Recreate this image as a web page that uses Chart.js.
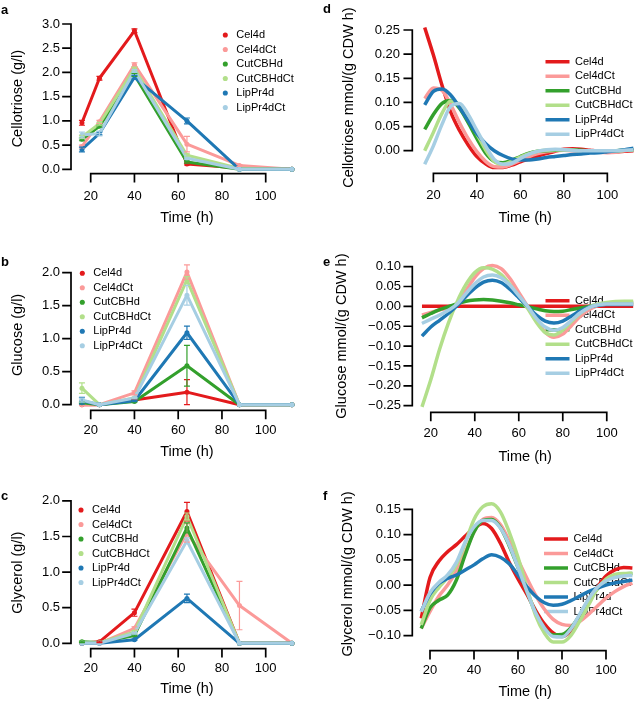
<!DOCTYPE html>
<html>
<head>
<meta charset="utf-8">
<script src="https://cdn.jsdelivr.net/npm/chart.js@4/dist/chart.umd.min.js"></script>
<style>
html, body { margin: 0; padding: 0; background: #fff; overflow: hidden; }
#figure { position: relative; width: 638px; height: 701px; }
.panel { position: absolute; }
</style>
</head>
<body>
<div id="figure"></div>
<script>
const series_names = ['Cel4d', 'Cel4dCt', 'CutCBHd', 'CutCBHdCt', 'LipPr4d', 'LipPr4dCt'];
const series_colors = ['#E31A1C', '#FB9A99', '#33A02C', '#B2DF8A', '#1F78B4', '#A6CEE3'];

// sampling times of the measured concentrations (h)
const sample_hours = [16, 24, 40, 64, 88, 112];
const rate_hours = [16, 20, 24, 28, 32, 36, 40, 44, 48, 52, 56, 60, 64, 68, 72, 76, 80, 84, 88, 92, 96, 100, 104, 108, 112];

const time_ticks = [20, 40, 60, 80, 100];
const cellotriose_ticks = [0, 0.5, 1, 1.5, 2, 2.5, 3];
const glucose_ticks = [0, 0.5, 1, 1.5, 2];
const glycerol_ticks = [0, 0.5, 1, 1.5, 2];
const cellotriose_rate_ticks = [0, 0.05, 0.1, 0.15, 0.2, 0.25];
const glucose_rate_ticks = [-0.25, -0.2, -0.15, -0.1, -0.05, 0, 0.05, 0.1];
const glycerol_rate_ticks = [-0.1, -0.05, 0, 0.05, 0.1, 0.15];

// concentrations (g/l), one row per strain
const cellotriose_mean = [
    [0.96, 1.88, 2.86, 0.11, 0.03, 0.0],
    [0.47, 0.98, 2.16, 0.52, 0.08, 0.0],
    [0.62, 0.89, 1.95, 0.15, 0.0, 0.0],
    [0.67, 0.94, 2.08, 0.29, 0.02, 0.0],
    [0.41, 0.74, 1.90, 1.00, 0.0, 0.0],
    [0.71, 0.74, 2.03, 0.23, 0.0, 0.0]
];
const cellotriose_sd = [
    [0.05, 0.04, 0.04, 0.02, 0, 0],
    [0.03, 0.03, 0.04, 0.16, 0.02, 0],
    [0.03, 0.02, 0.03, 0.02, 0, 0],
    [0.03, 0.03, 0.03, 0.03, 0, 0],
    [0.05, 0.03, 0.04, 0.06, 0, 0],
    [0.06, 0.05, 0.03, 0.02, 0, 0]
];
const glucose_mean = [
    [0.0, 0.0, 0.07, 0.19, 0.0, 0.0],
    [0.0, 0.0, 0.18, 2.01, 0.0, 0.0],
    [0.03, 0.0, 0.05, 0.59, 0.0, 0.0],
    [0.25, 0.0, 0.10, 1.89, 0.0, 0.0],
    [0.06, 0.0, 0.06, 1.09, 0.0, 0.0],
    [0.07, 0.0, 0.10, 1.66, 0.0, 0.0]
];
const glucose_sd = [
    [0, 0, 0.01, 0.19, 0, 0],
    [0, 0, 0.03, 0.11, 0, 0],
    [0.01, 0, 0.01, 0.31, 0, 0],
    [0.08, 0, 0.01, 0.05, 0, 0],
    [0.05, 0, 0.01, 0.10, 0, 0],
    [0.03, 0, 0.01, 0.15, 0, 0]
];
const glycerol_mean = [
    [0.0, 0.02, 0.43, 1.85, 0.0, 0.0],
    [0.0, 0.0, 0.21, 1.55, 0.53, 0.0],
    [0.02, 0.01, 0.11, 1.62, 0.0, 0.0],
    [0.01, 0.01, 0.16, 1.78, 0.0, 0.0],
    [0.0, 0.0, 0.05, 0.63, 0.0, 0.0],
    [0.0, 0.0, 0.14, 1.44, 0.0, 0.0]
];
const glycerol_sd = [
    [0, 0.01, 0.05, 0.13, 0, 0],
    [0, 0, 0.02, 0.13, 0.34, 0],
    [0.01, 0, 0.01, 0.07, 0, 0],
    [0, 0, 0.02, 0.05, 0, 0],
    [0, 0, 0.01, 0.06, 0, 0],
    [0, 0, 0.01, 0.04, 0, 0]
];

// specific rates mmol/(g CDW h), read at rate_hours
const cellotriose_rate = [
    [0.255, 0.198, 0.135, 0.08, 0.042, 0.012, -0.012, -0.027, -0.035, -0.035, -0.03, -0.023, -0.017, -0.011, -0.006, -0.001, 0.003, 0.004, 0.003, 0.001, -0.001, -0.002, -0.002, -0.001, 0.0],
    [0.108, 0.13, 0.125, 0.095, 0.058, 0.025, -0.002, -0.022, -0.033, -0.034, -0.028, -0.02, -0.012, -0.006, -0.002, 0.0, 0.001, 0.0, 0.0, -0.001, -0.003, -0.004, -0.003, 0.0, 0.002],
    [0.044, 0.075, 0.098, 0.104, 0.088, 0.058, 0.025, -0.005, -0.022, -0.025, -0.02, -0.012, -0.005, -0.001, 0.0, 0.001, 0.002, 0.002, 0.001, 0.0, 0.0, -0.001, 0.0, 0.001, 0.002],
    [0.0, 0.038, 0.078, 0.103, 0.095, 0.068, 0.035, 0.002, -0.022, -0.028, -0.022, -0.013, -0.006, -0.001, 0.001, 0.002, 0.002, 0.001, 0.0, 0.0, 0.0, 0.0, 0.0, 0.001, 0.002],
    [0.095, 0.123, 0.128, 0.115, 0.09, 0.062, 0.035, 0.015, 0.0, -0.01, -0.017, -0.019, -0.019, -0.017, -0.014, -0.012, -0.01, -0.008, -0.007, -0.005, -0.004, -0.002, 0.0, 0.002, 0.005],
    [-0.028, 0.01, 0.055, 0.092, 0.098, 0.075, 0.042, 0.01, -0.018, -0.028, -0.026, -0.016, -0.007, -0.001, 0.002, 0.003, 0.002, 0.001, 0.0, 0.0, 0.0, 0.0, 0.0, 0.001, 0.002]
];
const glucose_rate = [
    [0, 0, 0, 0, 0, 0, 0, 0, 0, 0, 0, 0, 0, 0, 0, 0, 0, 0, 0, 0, 0, 0, 0, 0, 0],
    [-0.022, -0.015, -0.009, -0.004, 0.008, 0.04, 0.073, 0.095, 0.103, 0.095, 0.07, 0.035, 0.0, -0.035, -0.065, -0.078, -0.07, -0.048, -0.025, -0.008, 0.002, 0.006, 0.008, 0.008, 0.008],
    [-0.029, -0.018, -0.008, -0.001, 0.007, 0.013, 0.016, 0.017, 0.016, 0.013, 0.009, 0.004, -0.001, -0.006, -0.011, -0.013, -0.012, -0.008, -0.004, 0.0, 0.004, 0.007, 0.009, 0.01, 0.01],
    [-0.253, -0.185, -0.108, -0.042, 0.012, 0.055, 0.085, 0.097, 0.094, 0.08, 0.055, 0.025, -0.005, -0.04, -0.066, -0.072, -0.06, -0.038, -0.017, -0.002, 0.006, 0.01, 0.012, 0.013, 0.013],
    [-0.075, -0.052, -0.035, -0.018, 0.002, 0.025, 0.046, 0.061, 0.066, 0.06, 0.043, 0.022, 0.0, -0.022, -0.037, -0.042, -0.037, -0.024, -0.011, -0.002, 0.003, 0.005, 0.005, 0.005, 0.005],
    [-0.043, -0.032, -0.022, -0.01, 0.006, 0.032, 0.057, 0.074, 0.079, 0.072, 0.053, 0.027, 0.0, -0.03, -0.052, -0.06, -0.053, -0.035, -0.016, -0.003, 0.004, 0.006, 0.006, 0.006, 0.006]
];
const glycerol_rate = [
    [-0.066, 0.015, 0.047, 0.066, 0.08, 0.097, 0.112, 0.122, 0.112, 0.083, 0.045, 0.012, -0.018, -0.05, -0.077, -0.095, -0.102, -0.091, -0.065, -0.032, -0.005, 0.018, 0.03, 0.035, 0.034],
    [-0.086, -0.052, -0.022, 0.0, 0.028, 0.065, 0.105, 0.13, 0.134, 0.12, 0.088, 0.05, 0.014, -0.02, -0.048, -0.068, -0.078, -0.08, -0.072, -0.058, -0.042, -0.026, -0.013, -0.003, 0.004],
    [-0.086, -0.045, -0.03, -0.02, 0.01, 0.06, 0.105, 0.128, 0.13, 0.114, 0.078, 0.035, -0.012, -0.055, -0.085, -0.099, -0.098, -0.085, -0.06, -0.032, -0.008, 0.008, 0.018, 0.022, 0.023],
    [-0.079, -0.03, -0.005, 0.015, 0.04, 0.083, 0.13, 0.155, 0.161, 0.145, 0.105, 0.055, -0.005, -0.06, -0.095, -0.113, -0.113, -0.1, -0.072, -0.04, -0.008, 0.012, 0.021, 0.023, 0.023],
    [-0.052, -0.018, 0.003, 0.013, 0.02, 0.03, 0.04, 0.052, 0.06, 0.055, 0.042, 0.02, -0.003, -0.022, -0.035, -0.04, -0.038, -0.031, -0.022, -0.013, -0.006, 0.0, 0.004, 0.007, 0.01],
    [-0.053, -0.015, 0.005, 0.02, 0.045, 0.085, 0.115, 0.128, 0.128, 0.113, 0.08, 0.035, -0.012, -0.055, -0.085, -0.102, -0.103, -0.087, -0.058, -0.028, -0.005, 0.008, 0.015, 0.018, 0.019]
];

const FONT = '"Liberation Sans", Arial, Helvetica, sans-serif';
const TICK_SIZE = 13;
const TITLE_SIZE = 14.5;
const LEGEND_SIZE = 11;

Chart.defaults.font.family = FONT;
Chart.defaults.color = '#000';

// box: canvas left, top, width, height in the page
// area: plot region left, top, right, bottom inside the canvas
const panels = [
    {letter: 'a', rate: false, mean: cellotriose_mean, sd: cellotriose_sd, ytitle: 'Cellotriose (g/l)',
     yticks: cellotriose_ticks, decimals: 1, xrange: [11, 117], yrange: [-0.09, 3.01],
     box: [0, 0, 319, 229], area: [71, 23.5, 302.9, 173.7],
     ylabel_right: 60, ytitle_x: 18.3, xlabel_y: 196, xtitle_y: 218, letter_pos: [1, 10], legend_pos: [219.8, 29.5]},
    {letter: 'b', rate: false, mean: glucose_mean, sd: glucose_sd, ytitle: 'Glucose (g/l)',
     yticks: glucose_ticks, decimals: 1, xrange: [11, 117], yrange: [-0.085, 2.2],
     box: [0, 230, 319, 233], area: [71, 29.5, 302.9, 180.3],
     ylabel_right: 60, ytitle_x: 18.3, xlabel_y: 200, xtitle_y: 221.7, letter_pos: [1, 32.7], legend_pos: [76.8, 37.8]},
    {letter: 'c', rate: false, mean: glycerol_mean, sd: glycerol_sd, ytitle: 'Glycerol (g/l)',
     yticks: glycerol_ticks, decimals: 1, xrange: [11, 117], yrange: [-0.076, 2.06],
     box: [0, 465, 319, 236], area: [71, 31.6, 302.9, 183.7],
     ylabel_right: 60, ytitle_x: 18.3, xlabel_y: 203.3, xtitle_y: 224, letter_pos: [1, 31.7], legend_pos: [75.5, 39.5]},
    {letter: 'd', rate: true, mean: cellotriose_rate, ytitle: 'Cellotriose mmol/(g CDW h)',
     yticks: cellotriose_rate_ticks, decimals: 2, xrange: [10.3, 114.1], yrange: [-0.047, 0.267],
     box: [320, 0, 318, 229], area: [92.3, 21.8, 318, 173.4],
     ylabel_right: 80, ytitle_x: 29.3, xlabel_y: 195, xtitle_y: 218.3, letter_pos: [3, 9], legend_pos: [225.5, 56.2]},
    {letter: 'e', rate: true, mean: glucose_rate, ytitle: 'Glucose mmol/(g CDW h)',
     yticks: glucose_rate_ticks, decimals: 2, xrange: [11.6, 114.2], yrange: [-0.2667, 0.117],
     box: [320, 230, 318, 238], area: [92.3, 29.9, 318, 182.3],
     ylabel_right: 81, ytitle_x: 21.7, xlabel_y: 203.3, xtitle_y: 226.7, letter_pos: [3, 32.7], legend_pos: [225.5, 65.2]},
    {letter: 'f', rate: true, mean: glycerol_rate, ytitle: 'Glycerol mmol/(g CDW h)',
     yticks: glycerol_rate_ticks, decimals: 2, xrange: [11.95, 114.55], yrange: [-0.13, 0.174],
     box: [320, 465, 318, 236], area: [92.3, 32.2, 318, 185.7],
     ylabel_right: 81, ytitle_x: 28.3, xlabel_y: 205, xtitle_y: 226.7, letter_pos: [3, 31], legend_pos: [224, 68.5]}
];

// numbers as R prints them, with a real minus sign
function format_tick(v, decimals)
{
    const s = Math.abs(v).toFixed(decimals);
    return v < 0 ? '\u2212' + s : s;
}

// R style detached axes, drawn from the first to the last tick
function make_axes_plugin(panel)
{
    return {
        id: 'rAxes',
        afterDraw(chart) {
            const ctx = chart.ctx;
            const area = chart.chartArea;
            const xs = chart.scales.x;
            const ys = chart.scales.y;
            const xp = xs.ticks.map(t => xs.getPixelForValue(t.value));
            const yp = ys.ticks.map(t => ys.getPixelForValue(t.value));

            ctx.save();
            ctx.strokeStyle = '#000';
            ctx.lineWidth = 1.7;
            ctx.lineCap = 'square';
            ctx.beginPath();
            ctx.moveTo(xp[0], area.bottom);
            ctx.lineTo(xp[xp.length - 1], area.bottom);
            for (let i = 0; i < xp.length; i++) {
                ctx.moveTo(xp[i], area.bottom);
                ctx.lineTo(xp[i], area.bottom + 8);
            }
            ctx.moveTo(area.left, yp[0]);
            ctx.lineTo(area.left, yp[yp.length - 1]);
            for (let i = 0; i < yp.length; i++) {
                ctx.moveTo(area.left, yp[i]);
                ctx.lineTo(area.left - 8, yp[i]);
            }
            ctx.stroke();

            ctx.fillStyle = '#000';
            ctx.font = 'bold 13px ' + FONT;
            ctx.textAlign = 'left';
            ctx.textBaseline = 'middle';
            ctx.fillText(panel.letter, panel.letter_pos[0], panel.letter_pos[1]);
            ctx.restore();
        }
    };
}

const errbar_plugin = {
    id: 'errBars',
    afterDatasetsDraw(chart) {
        const ctx = chart.ctx;
        const xs = chart.scales.x;
        const ys = chart.scales.y;
        ctx.save();
        ctx.lineWidth = 1.2;
        chart.data.datasets.forEach(ds => {
            if (!ds.sd)
                return;
            ctx.strokeStyle = ds.borderColor;
            ctx.beginPath();
            ds.data.forEach((p, j) => {
                const e = ds.sd[j];
                if (!e)
                    return;
                const px = xs.getPixelForValue(p.x);
                const top = ys.getPixelForValue(p.y + e);
                const bottom = ys.getPixelForValue(p.y - e);
                ctx.moveTo(px, top);
                ctx.lineTo(px, bottom);
                ctx.moveTo(px - 3, top);
                ctx.lineTo(px + 3, top);
                ctx.moveTo(px - 3, bottom);
                ctx.lineTo(px + 3, bottom);
            });
            ctx.stroke();
        });
        ctx.restore();
    }
};

// put the legend box where the original has it, inside the plot region
function make_legend_plugin(panel)
{
    return {
        id: 'placeLegend',
        afterLayout(chart) {
            const lg = chart.legend;
            const pad = lg.options.labels.padding;
            lg.left = panel.legend_pos[0] - pad;
            lg.top = panel.legend_pos[1] - pad;
            lg.width = 200;
            lg.height = 140;
            lg.right = lg.left + lg.width;
            lg.bottom = lg.top + lg.height;
        }
    };
}

function make_dataset(panel, i)
{
    const color = series_colors[i];
    const hours = panel.rate ? rate_hours : sample_hours;
    const ds = {
        label: series_names[i],
        data: hours.map((h, j) => ({x: h, y: panel.mean[i][j]})),
        borderColor: color,
        backgroundColor: color,
        pointBackgroundColor: color,
        pointBorderColor: color,
        pointHoverRadius: 0,
        borderJoinStyle: 'round',
        order: series_names.length - i
    };
    if (panel.rate) {
        ds.borderWidth = 3.5;
        ds.pointRadius = 0;
        ds.pointBorderWidth = 3.5;
        ds.cubicInterpolationMode = 'monotone';
    } else {
        ds.sd = panel.sd[i];
        ds.borderWidth = 3;
        ds.tension = 0;
        ds.pointRadius = 2.5;
        ds.pointBorderWidth = 0;
    }
    return ds;
}

function make_chart(panel)
{
    const [bx, by, bw, bh] = panel.box;
    const [al, at, ar, ab] = panel.area;

    const div = document.createElement('div');
    div.className = 'panel';
    div.style.left = bx + 'px';
    div.style.top = by + 'px';
    div.style.width = bw + 'px';
    div.style.height = bh + 'px';
    const canvas = document.createElement('canvas');
    div.appendChild(canvas);
    document.getElementById('figure').appendChild(div);

    const datasets = series_names.map((name, i) => make_dataset(panel, i));
    const tick_lh = TICK_SIZE * 1.2;
    const title_lh = TITLE_SIZE * 1.2;

    new Chart(canvas, {
        type: 'line',
        data: {datasets: datasets},
        options: {
            responsive: true,
            maintainAspectRatio: false,
            animation: false,
            events: [],
            layout: {padding: {left: 0, top: at, right: bw - ar, bottom: 0}},
            plugins: {
                tooltip: {enabled: false},
                legend: {
                    position: 'chartArea',
                    align: 'start',
                    labels: {
                        font: {size: LEGEND_SIZE},
                        color: '#000',
                        padding: 3.5,
                        usePointStyle: true,
                        pointStyle: panel.rate ? 'line' : 'circle',
                        pointStyleWidth: panel.rate ? 24 : undefined,
                        boxHeight: panel.rate ? LEGEND_SIZE : 3.6,
                        sort: (a, b) => a.datasetIndex - b.datasetIndex
                    }
                }
            },
            scales: {
                x: {
                    type: 'linear',
                    min: panel.xrange[0],
                    max: panel.xrange[1],
                    bounds: 'data',
                    afterBuildTicks: s => { s.ticks = time_ticks.map(v => ({value: v})); },
                    afterFit: s => { s.height = bh - ab; },
                    grid: {display: false, drawTicks: false},
                    border: {display: false},
                    ticks: {
                        font: {size: TICK_SIZE},
                        color: '#000',
                        padding: panel.xlabel_y - ab - tick_lh / 2,
                        maxRotation: 0,
                        autoSkip: false,
                        callback: v => String(v)
                    },
                    title: {
                        display: true,
                        text: 'Time (h)',
                        font: {size: TITLE_SIZE},
                        color: '#000',
                        padding: {top: 0, bottom: bh - panel.xtitle_y - title_lh / 2}
                    }
                },
                y: {
                    type: 'linear',
                    min: panel.yrange[0],
                    max: panel.yrange[1],
                    bounds: 'data',
                    afterBuildTicks: s => { s.ticks = panel.yticks.map(v => ({value: v})); },
                    afterFit: s => { s.width = al; },
                    grid: {display: false, drawTicks: false},
                    border: {display: false},
                    ticks: {
                        font: {size: TICK_SIZE},
                        color: '#000',
                        padding: al - panel.ylabel_right,
                        autoSkip: false,
                        callback: v => format_tick(v, panel.decimals)
                    },
                    title: {
                        display: true,
                        text: panel.ytitle,
                        font: {size: TITLE_SIZE},
                        color: '#000',
                        padding: {top: panel.ytitle_x - title_lh / 2, bottom: 0}
                    }
                }
            }
        },
        plugins: [make_axes_plugin(panel), errbar_plugin, make_legend_plugin(panel)]
    });
}

panels.forEach(make_chart);
</script>
</body>
</html>
